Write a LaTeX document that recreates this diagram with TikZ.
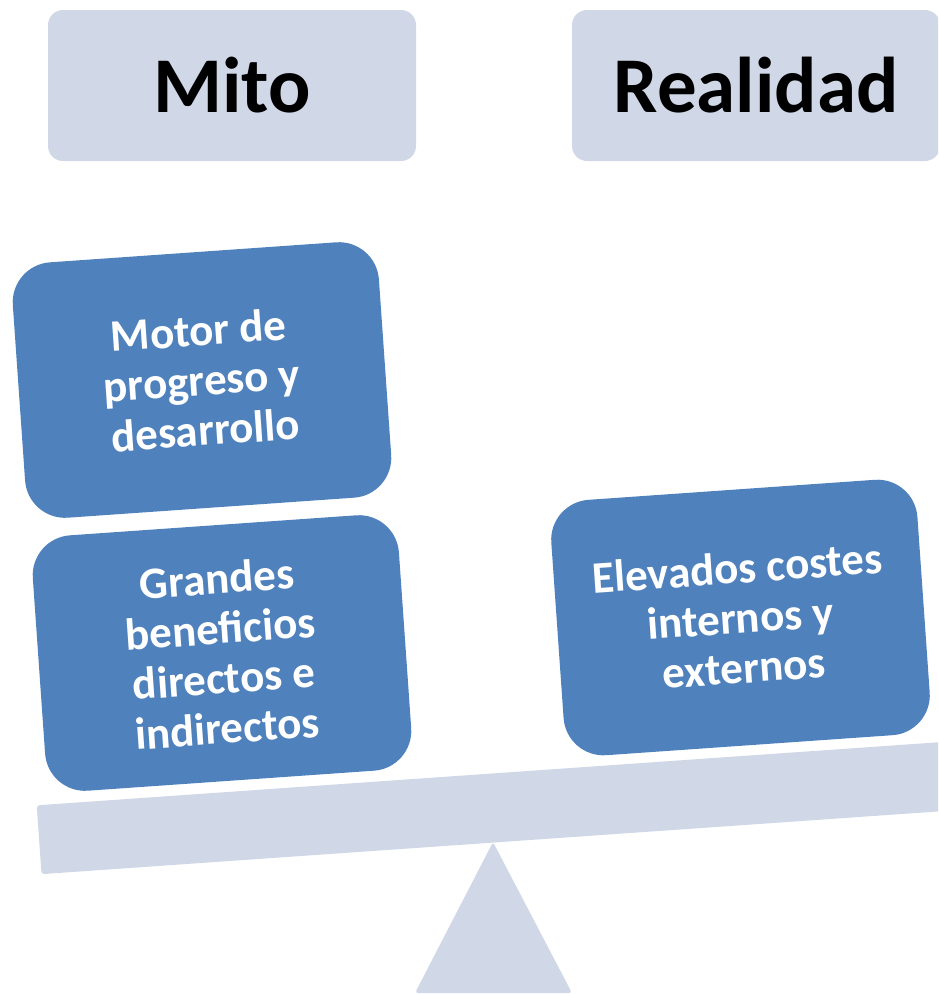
\documentclass[tikz,border=0pt]{standalone}
\usepackage{fontspec}
\setmainfont{Carlito}
\definecolor{lightbl}{HTML}{D0D8E8}
\definecolor{midbl}{HTML}{4F81BD}
\begin{document}
\begin{tikzpicture}[x=1pt,y=-1pt,
  titlebox/.style={fill=lightbl, rounded corners=15pt, minimum width=368pt, minimum height=151pt, inner sep=0pt, font=\fontsize{79}{82}\selectfont\bfseries},
  itembox/.style={fill=midbl, rounded corners=40pt, minimum width=367pt, minimum height=256pt, inner sep=0pt, rotate=4, text=white, align=center, font=\fontsize{45}{50}\selectfont\bfseries},
  beambox/.style={fill=lightbl, rounded corners=3pt, minimum width=910pt, minimum height=69pt, inner sep=0pt, rotate=4},
]
\useasboundingbox (0,0) rectangle (938,994);
\begin{scope}
\clip (0,0) rectangle (938,994);
\fill[lightbl, rounded corners=3pt] (493,842) -- (415,993) -- (572,993) -- cycle;
\node[beambox] (beam) at (493,808) {};
\node[titlebox] (mito) at (232,85.5) {Mito};
\node[titlebox] (realidad) at (756,85.5) {Realidad};
\node[itembox] (motor) at (202,380) {Motor de\\progreso y\\desarrollo};
\node[itembox] (grandes) at (222,653) {Grandes\\beneficios\\directos e\\indirectos};
\node[itembox] (elevados) at (740.5,617.5) {Elevados costes\\internos y\\externos};
\end{scope}
\end{tikzpicture}
\end{document}
